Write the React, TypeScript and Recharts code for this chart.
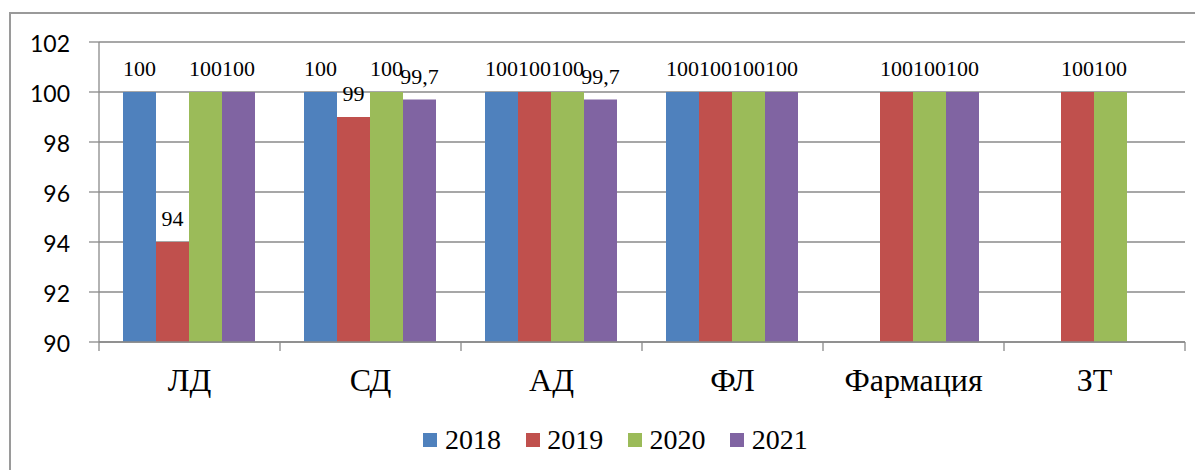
import React from 'react';
import { BarChart, Bar, XAxis, YAxis, CartesianGrid, Legend, LabelList } from 'recharts';

const categories = ['ЛД', 'СД', 'АД', 'ФЛ', 'Фармация', 'ЗТ'];
const years = ['2018', '2019', '2020', '2021'];
const values2018: (number | null)[] = [100, 100, 100, 100, null, null];
const values2019: (number | null)[] = [94, 99, 100, 100, 100, 100];
const values2020: (number | null)[] = [100, 100, 100, 100, 100, 100];
const values2021: (number | null)[] = [100, 99.7, 99.7, 100, 100, null];
const yTicks = [90, 92, 94, 96, 98, 100, 102];
const colors = ['#4F81BD', '#C0504D', '#9BBB59', '#8064A2'];

const seriesValues = [values2018, values2019, values2020, values2021];

const data = categories.map((c, i) => {
  const row: Record<string, string | number | null> = { category: c };
  years.forEach((y, k) => {
    row['y' + y] = seriesValues[k][i];
  });
  return row;
});

const SERIF = "'Liberation Serif', 'Times New Roman', Times, 'DejaVu Serif', serif";
const SANS = "Lato, 'Liberation Sans', sans-serif";
const GRAY = '#8a8a8a';

const fmt = (v: number) => String(v).replace('.', ',');

const DataLabel = (props: any) => {
  const { x, y, width, value } = props;
  if (value === null || value === undefined) return null;
  return (
    <text
      x={Number(x) + Number(width) / 2}
      y={Number(y) - 16}
      textAnchor="middle"
      style={{ fontFamily: SERIF, fontSize: 22 }}
      fill="#000"
    >
      {fmt(Number(value))}
    </text>
  );
};

const XTick = (props: any) => {
  const { x, y, payload, index } = props;
  const half = payload && payload.offset ? payload.offset : 1086 / 12;
  const last = index === categories.length - 1;
  return (
    <g>
      <line x1={x - half} x2={x - half} y1={y} y2={y + 9} stroke={GRAY} strokeWidth={1.3} />
      {last && <line x1={x + half} x2={x + half} y1={y} y2={y + 9} stroke={GRAY} strokeWidth={1.3} />}
      <text x={x} y={y + 49} textAnchor="middle" style={{ fontFamily: SERIF, fontSize: 32 }} fill="#000">
        {payload.value}
      </text>
    </g>
  );
};

const LegendContent = (props: any) => {
  const payload = props.payload || [];
  return (
    <div
      style={{
        height: 50,
        boxSizing: 'border-box',
        display: 'flex',
        justifyContent: 'center',
        paddingLeft: 38,
        paddingTop: 4,
        fontFamily: SERIF,
        fontSize: 28,
        lineHeight: '31px',
        color: '#000',
      }}
    >
      {payload.map((p: any, i: number) => (
        <div
          key={p.value}
          style={{ display: 'flex', alignItems: 'flex-start', marginRight: i < payload.length - 1 ? 24.6 : 0 }}
        >
          <span
            style={{ display: 'inline-block', width: 14, height: 14, background: p.color, marginTop: 9, marginRight: 7.7 }}
          />
          <span style={{ fontFamily: SERIF }}>{p.value}</span>
        </div>
      ))}
    </div>
  );
};

export default function App() {
  return (
    <div style={{ position: 'relative', width: 1195, height: 462 }}>
      <div
        style={{
          position: 'absolute',
          left: 1,
          top: 4,
          right: 0,
          bottom: 0,
          borderTop: '2px solid #9a9a9a',
          borderLeft: '2px solid #9a9a9a',
        }}
      />
      <BarChart
        width={1195}
        height={462}
        data={data}
        margin={{ top: 34, right: 18, left: 0, bottom: 0 }}
        barCategoryGap="13.26%"
        barGap={0}
        style={{ position: 'absolute', left: 0, top: 0 }}
      >
        <CartesianGrid horizontal vertical={false} stroke={GRAY} strokeWidth={1.3} />
        <XAxis
          dataKey="category"
          height={78}
          axisLine={{ stroke: GRAY, strokeWidth: 1.3 }}
          tickLine={false}
          tickSize={0}
          tickMargin={0}
          tick={<XTick />}
          interval={0}
        />
        <YAxis
          width={91}
          domain={[90, 102]}
          ticks={yTicks}
          allowDataOverflow
          axisLine={{ stroke: GRAY, strokeWidth: 1.3 }}
          tickLine={{ stroke: GRAY, strokeWidth: 1.3 }}
          tickSize={10}
          tickMargin={19}
          tick={{ style: { fontFamily: SANS }, fontSize: 23, fill: '#000', dy: 2 }}
        />
        <Legend verticalAlign="bottom" content={<LegendContent />} />
        {years.map((y, k) => (
          <Bar key={y} dataKey={'y' + y} name={y} fill={colors[k]} isAnimationActive={false}>
            <LabelList dataKey={'y' + y} content={<DataLabel />} />
          </Bar>
        ))}
      </BarChart>
    </div>
  );
}
